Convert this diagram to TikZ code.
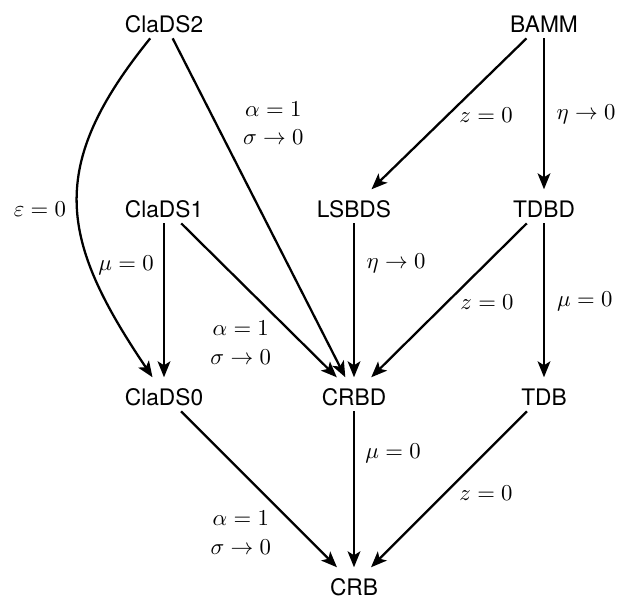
\documentclass[tikz,border=0pt]{standalone}
\usepackage{fontspec}
\newfontfamily\heros{TeX Gyre Heros}
\usetikzlibrary{arrows.meta}
\begin{document}
\begin{tikzpicture}[x=0.44pt,y=-0.44pt,
  model/.style={font=\heros\fontsize{10}{12}\selectfont, anchor=base, inner xsep=2pt, inner ysep=2.6pt, text height=9.4pt, text depth=0pt},
  conn/.style={line width=1pt, -{Stealth[length=7pt,width=5.6pt,inset=1.7pt]}},
  lab/.style={inner sep=0pt, align=center, font=\fontsize{10}{12.5}\selectfont}]
\useasboundingbox (0,0) rectangle (617,599);
% models
\node[model] (c2) at (164,32) {ClaDS2};
\node[model] (bamm) at (544,32) {BAMM};
\node[model] (c1) at (164,217) {ClaDS1};
\node[model] (lsbds) at (354,217) {LSBDS};
\node[model] (tdbd) at (544,217) {TDBD};
\node[model] (c0) at (164,405) {ClaDS0};
\node[model] (crbd) at (354,405) {CRBD};
\node[model] (tdb) at (544,405) {TDB};
\node[model] (crb) at (354,595) {CRB};
% connectors
\draw[conn] (c2) to[out=231,in=124,looseness=1.25]
  node[lab,pos=0.5,xshift=-16.5pt,yshift=-1.8pt] {$\varepsilon=0$} (c0);
\draw[conn] (c2) -- node[lab,pos=0.25,xshift=25.3pt] {$\alpha=1$\\$\sigma\to0$} (crbd);
\draw[conn] (c1) -- node[lab,pos=0.27,xshift=-16.7pt] {$\mu=0$} (c0);
\draw[conn] (c1) -- node[lab,pos=0.774,xshift=-26.8pt] {$\alpha=1$\\$\sigma\to0$} (crbd);
\draw[conn] (lsbds) -- node[lab,pos=0.26,xshift=18.5pt] {$\eta\to0$} (crbd);
\draw[conn] (bamm) -- node[lab,pos=0.507,xshift=16.8pt] {$z=0$} (lsbds);
\draw[conn] (bamm) -- node[lab,pos=0.507,xshift=18.5pt] {$\eta\to0$} (tdbd);
\draw[conn] (tdbd) -- node[lab,pos=0.51,xshift=17.4pt] {$z=0$} (crbd);
\draw[conn] (tdbd) -- node[lab,pos=0.51,xshift=18pt] {$\mu=0$} (tdb);
\draw[conn] (c0) -- node[lab,pos=0.777,xshift=-27pt] {$\alpha=1$\\$\sigma\to0$} (crb);
\draw[conn] (crbd) -- node[lab,pos=0.27,xshift=17.2pt] {$\mu=0$} (crb);
\draw[conn] (tdb) -- node[lab,pos=0.522,xshift=17.8pt] {$z=0$} (crb);
\end{tikzpicture}
\end{document}
